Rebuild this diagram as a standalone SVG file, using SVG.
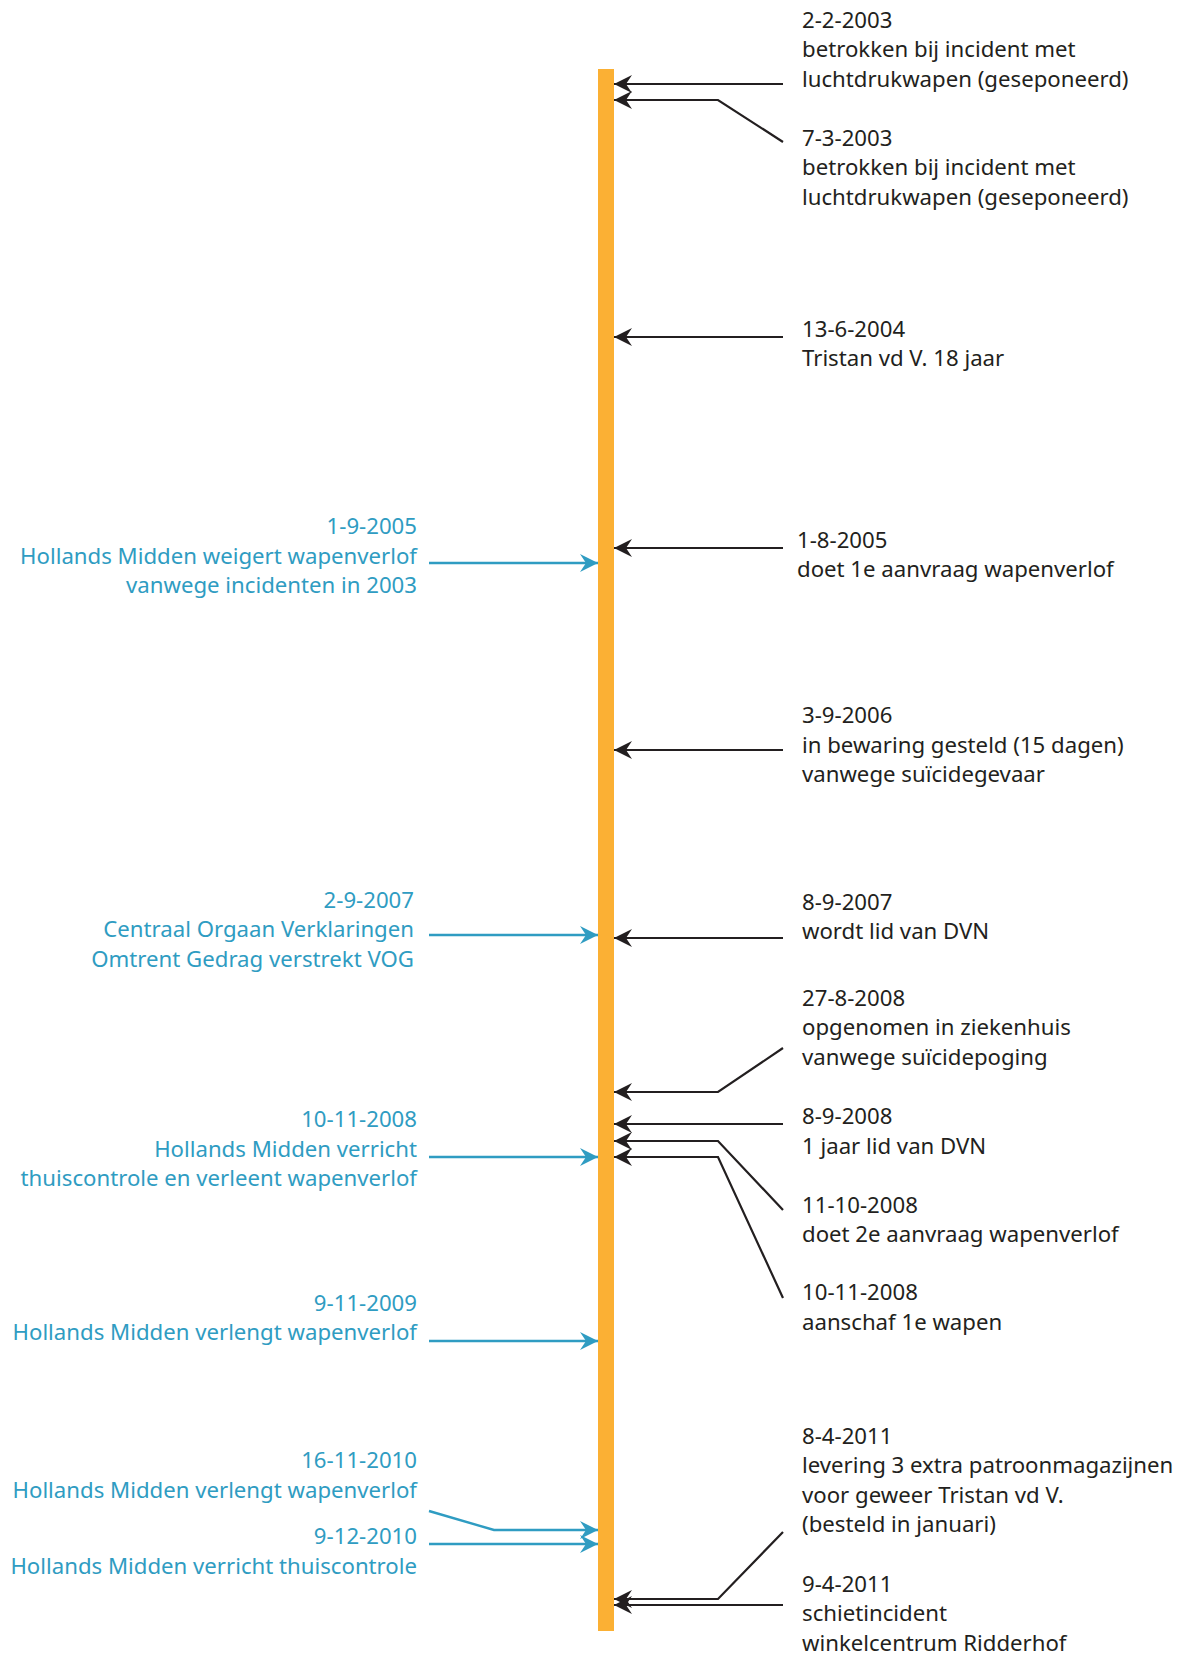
<svg xmlns="http://www.w3.org/2000/svg" width="1183" height="1655" viewBox="0 0 1183 1655">
<defs>
<style>
text{font-family:"Noto Sans","Liberation Sans",sans-serif;font-size:22.2px}
.r{fill:#231F20}
.l{fill:#2F9CC2;text-anchor:end}
.k{fill:none;stroke:#231F20;stroke-width:2.2}
.b{fill:none;stroke:#2F9CC2;stroke-width:2.4}
</style>
<marker id="ak" markerUnits="userSpaceOnUse" markerWidth="22" markerHeight="22" viewBox="-20 -11 22 22" refX="0" refY="0" orient="auto"><path d="M-18,-9 L0,0 L-18,9 L-12,0 Z" fill="#231F20"/></marker>
<marker id="ab" markerUnits="userSpaceOnUse" markerWidth="22" markerHeight="22" viewBox="-20 -11 22 22" refX="0" refY="0" orient="auto"><path d="M-18,-9 L0,0 L-18,9 L-12,0 Z" fill="#2F9CC2"/></marker>
</defs>
<rect id="timeline" x="598" y="69" width="16" height="1562" fill="#FBB034"/>
<g id="connectors">
<path class="k" d="M783,84 L614,84" marker-end="url(#ak)"/>
<path class="k" d="M783,142 L718,100 L614,100" marker-end="url(#ak)"/>
<path class="k" d="M783,337 L614,337" marker-end="url(#ak)"/>
<path class="k" d="M783,548 L614,548" marker-end="url(#ak)"/>
<path class="k" d="M783,750 L614,750" marker-end="url(#ak)"/>
<path class="k" d="M783,938 L614,938" marker-end="url(#ak)"/>
<path class="k" d="M783,1048 L718,1092 L614,1092" marker-end="url(#ak)"/>
<path class="k" d="M783,1124 L614,1124" marker-end="url(#ak)"/>
<path class="k" d="M783,1210 L718,1141 L614,1141" marker-end="url(#ak)"/>
<path class="k" d="M783,1298 L718,1157 L614,1157" marker-end="url(#ak)"/>
<path class="k" d="M783,1532 L718,1599 L614,1599" marker-end="url(#ak)"/>
<path class="k" d="M783,1605 L614,1605" marker-end="url(#ak)"/>
<path class="b" d="M429,563 L598,563" marker-end="url(#ab)"/>
<path class="b" d="M429,935 L598,935" marker-end="url(#ab)"/>
<path class="b" d="M429,1157 L598,1157" marker-end="url(#ab)"/>
<path class="b" d="M429,1341 L598,1341" marker-end="url(#ab)"/>
<path class="b" d="M429,1511 L494,1530 L598,1530" marker-end="url(#ab)"/>
<path class="b" d="M429,1544 L598,1544" marker-end="url(#ab)"/>
</g>
<g id="n1"><text class="r" x="802" y="27.5">2-2-2003</text><text class="r" x="802" y="57">betrokken bij incident met</text><text class="r" x="802" y="86.5">luchtdrukwapen (geseponeerd)</text></g>
<g id="n2"><text class="r" x="802" y="145.7">7-3-2003</text><text class="r" x="802" y="175.2">betrokken bij incident met</text><text class="r" x="802" y="204.7">luchtdrukwapen (geseponeerd)</text></g>
<g id="n3"><text class="r" x="802" y="336.8">13-6-2004</text><text class="r" x="802" y="366.3">Tristan vd V. 18 jaar</text></g>
<g id="n4"><text class="r" x="797" y="547.8">1-8-2005</text><text class="r" x="797" y="577.3">doet 1e aanvraag wapenverlof</text></g>
<g id="n5"><text class="r" x="802" y="723">3-9-2006</text><text class="r" x="802" y="752.5">in bewaring gesteld (15 dagen)</text><text class="r" x="802" y="782">vanwege suïcidegevaar</text></g>
<g id="n6"><text class="r" x="802" y="909.8">8-9-2007</text><text class="r" x="802" y="939.3">wordt lid van DVN</text></g>
<g id="n7"><text class="r" x="802" y="1005.8">27-8-2008</text><text class="r" x="802" y="1035.3">opgenomen in ziekenhuis</text><text class="r" x="802" y="1064.8">vanwege suïcidepoging</text></g>
<g id="n8"><text class="r" x="802" y="1124">8-9-2008</text><text class="r" x="802" y="1153.5">1 jaar lid van DVN</text></g>
<g id="n9"><text class="r" x="802" y="1212.7">11-10-2008</text><text class="r" x="802" y="1242.2">doet 2e aanvraag wapenverlof</text></g>
<g id="n10"><text class="r" x="802" y="1300.2">10-11-2008</text><text class="r" x="802" y="1329.7">aanschaf 1e wapen</text></g>
<g id="n11"><text class="r" x="802" y="1443.8">8-4-2011</text><text class="r" x="802" y="1473.3">levering 3 extra patroonmagazijnen</text><text class="r" x="802" y="1502.8">voor geweer Tristan vd V.</text><text class="r" x="802" y="1532.3">(besteld in januari)</text></g>
<g id="n12"><text class="r" x="802" y="1591.5">9-4-2011</text><text class="r" x="802" y="1621">schietincident</text><text class="r" x="802" y="1650.5">winkelcentrum Ridderhof</text></g>
<g id="l1"><text class="l" x="417" y="534">1-9-2005</text><text class="l" x="417" y="563.5">Hollands Midden weigert wapenverlof</text><text class="l" x="417" y="593">vanwege incidenten in 2003</text></g>
<g id="l2"><text class="l" x="414" y="907.7">2-9-2007</text><text class="l" x="414" y="937.2">Centraal Orgaan Verklaringen</text><text class="l" x="414" y="966.7">Omtrent Gedrag verstrekt VOG</text></g>
<g id="l3"><text class="l" x="417" y="1127.2">10-11-2008</text><text class="l" x="417" y="1156.7">Hollands Midden verricht</text><text class="l" x="417" y="1186.2">thuiscontrole en verleent wapenverlof</text></g>
<g id="l4"><text class="l" x="417" y="1310.8">9-11-2009</text><text class="l" x="417" y="1340.3">Hollands Midden verlengt wapenverlof</text></g>
<g id="l5"><text class="l" x="417" y="1468">16-11-2010</text><text class="l" x="417" y="1497.5">Hollands Midden verlengt wapenverlof</text></g>
<g id="l6"><text class="l" x="417" y="1544">9-12-2010</text><text class="l" x="417" y="1573.5">Hollands Midden verricht thuiscontrole</text></g>
</svg>
